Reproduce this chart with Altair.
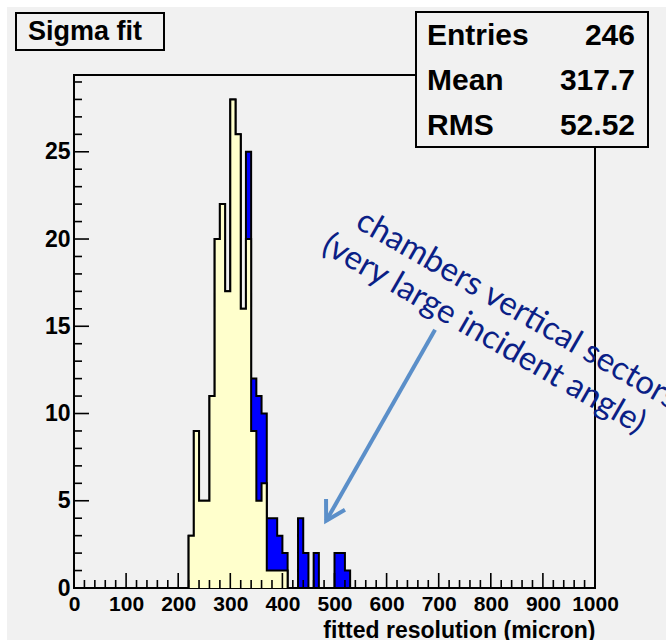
import math
import altair as alt
import pandas as pd

# ---------------- data ----------------
# 10-micron bins, lower edges in micron
bin_lo = list(range(200, 560, 10))
# all chambers (blue)
all_counts = [0, 0, 3, 9, 5, 5, 11, 20, 22, 17, 28, 26, 16, 25, 12, 11, 10, 4, 4, 3,
              2, 0, 0, 4, 2, 0, 2, 0, 0, 0, 2, 2, 1, 0, 0, 0]
# chambers outside the vertical sectors (yellow, drawn over the blue)
other_counts = [0, 0, 3, 9, 5, 5, 11, 20, 22, 17, 28, 26, 16, 20, 9, 5, 6, 1, 1, 1,
                1, 0, 0, 0, 0, 0, 0, 0, 0, 0, 0, 0, 0, 0, 0, 0]

x_labels = [0, 100, 200, 300, 400, 500, 600, 700, 800, 900, 1000]
y_labels = [0, 5, 10, 15, 20, 25]
x_major = [100, 200, 300, 400, 500, 600, 700, 800, 900]
x_minor = [v for v in range(20, 1000, 20) if v % 100]
y_major = [5, 10, 15, 20, 25]
y_minor = [v for v in range(1, 30) if v % 5]

stats_names = ["Entries", "Mean", "RMS"]
stats_values = ["246", "317.7", "52.52"]
hist_title = "Sigma fit"
x_title = "fitted resolution (micron)"
note_lines = ["chambers vertical sectors", "(very large incident angle)"]
arrow_tail = [693, 14.8]   # micron, entries
arrow_tip = [484, 3.85]

# ---------------- layout / style ----------------
W, H = 521, 513
X_MAX, Y_MAX = 1000, 29.4
BG = "#f1f1f1"
FONT = "Liberation Sans"
NAVY = "#0b1f86"
ARROW = "#5b8fc9"

xs = alt.Scale(domain=[0, X_MAX], nice=False, zero=False)
ys = alt.Scale(domain=[0, Y_MAX], nice=False, zero=False)

x_axis = alt.Axis(values=x_labels, format="d", ticks=False, domain=False, grid=False,
                  labelFont=FONT, labelFontSize=21, labelFontWeight="bold",
                  labelColor="black", labelPadding=5, labelFlush=False,
                  labelOverlap=False, title=x_title, titleFont=FONT,
                  titleFontSize=23, titleFontWeight="bold", titleColor="black",
                  titleAlign="right", titleAnchor="end", titleX=W, titleY=49,
                  titleBaseline="alphabetic")
y_axis = alt.Axis(values=y_labels, format="d", ticks=False, domain=False, grid=False,
                  labelFont=FONT, labelFontSize=23, labelFontWeight="bold",
                  labelColor="black", labelPadding=4, labelFlush=False,
                  labelOverlap=False, title=None)


def X(field="x"):
    return alt.X(f"{field}:Q", scale=xs, axis=x_axis, title=x_title)


def Y(field="y"):
    return alt.Y(f"{field}:Q", scale=ys, axis=y_axis, title=None)


def steps(counts):
    return pd.DataFrame({"x": bin_lo + [bin_lo[-1] + 10], "y": counts + [0]})


def one_row():
    return pd.DataFrame({"k": [0]})


def hist(counts, fill):
    df = steps(counts)
    area = alt.Chart(df).mark_area(interpolate="step-after", color=fill,
                                   opacity=1).encode(x=X(), y=Y())
    line = alt.Chart(df).mark_line(interpolate="step-after", color="black",
                                   strokeWidth=2).encode(x=X(), y=Y())
    return [area, line]


layers = []

# white page margin at top and left
for x0, x1, y0, y1 in [(-74, 592, -75, -68), (-74, -67, -75, 565)]:
    layers.append(alt.Chart(one_row()).mark_rect(color="white").encode(
        x=alt.value(x0), x2=alt.value(x1), y=alt.value(y0), y2=alt.value(y1)))

layers += hist(all_counts, "#0000ff")
layers += hist(other_counts, "#ffffcc")

# inward ticks
for vals, length in [(x_major, 15), (x_minor, 8)]:
    layers.append(alt.Chart(pd.DataFrame({"x": vals})).mark_rule(
        color="black", strokeWidth=1.6).encode(
        x=X(), y=alt.value(H), y2=alt.value(H - length)))
for vals, length in [(y_major, 15), (y_minor, 8)]:
    layers.append(alt.Chart(pd.DataFrame({"y": vals})).mark_rule(
        color="black", strokeWidth=1.6).encode(
        y=Y(), x=alt.value(0), x2=alt.value(length)))

# title box
layers.append(alt.Chart(one_row()).mark_rect(fill=BG, stroke="black", strokeWidth=2).encode(
    x=alt.value(-58), x2=alt.value(90), y=alt.value(-62), y2=alt.value(-25)))
layers.append(alt.Chart(one_row()).mark_text(
    text=hist_title, font=FONT, fontSize=27, fontWeight="bold", color="black",
    align="center", baseline="middle").encode(x=alt.value(11), y=alt.value(-43)))

# statistics box
layers.append(alt.Chart(one_row()).mark_rect(fill=BG, stroke="black", strokeWidth=2).encode(
    x=alt.value(342), x2=alt.value(574), y=alt.value(-63), y2=alt.value(72)))
for i, (name, val) in enumerate(zip(stats_names, stats_values)):
    yy = -39 + 45 * i
    layers.append(alt.Chart(one_row()).mark_text(
        text=name, font=FONT, fontSize=30, fontWeight="bold", color="black",
        align="left", baseline="middle").encode(x=alt.value(353), y=alt.value(yy)))
    layers.append(alt.Chart(one_row()).mark_text(
        text=val, font=FONT, fontSize=30, fontWeight="bold", color="black",
        align="right", baseline="middle").encode(x=alt.value(561), y=alt.value(yy)))

# annotation arrow
arrow_df = pd.DataFrame({"x": [arrow_tail[0]], "y": [arrow_tail[1]],
                         "x2": [arrow_tip[0]], "y2": [arrow_tip[1]]})
layers.append(alt.Chart(arrow_df).mark_rule(color=ARROW, strokeWidth=4).encode(
    x=X(), y=Y(), x2="x2:Q", y2="y2:Q"))
dx = (arrow_tip[0] - arrow_tail[0]) * W / X_MAX
dy = -(arrow_tip[1] - arrow_tail[1]) * H / Y_MAX
head_angle = math.degrees(math.atan2(-dx, dy)) % 360
head = "M -0.5 -0.866 L 0 0 L 0.5 -0.866"
layers.append(alt.Chart(pd.DataFrame({"x": [arrow_tip[0]], "y": [arrow_tip[1]]})).mark_point(
    shape=head, filled=False, stroke=ARROW, strokeWidth=4, size=1900, opacity=1,
    angle=head_angle).encode(x=X(), y=Y()))

# rotated annotation text
for txt, (px, py) in zip(note_lines, [(280, 152), (246, 176)]):
    layers.append(alt.Chart(one_row()).mark_text(
        text=txt, font="Lato", fontSize=33, color=NAVY, angle=30,
        align="left", baseline="alphabetic").encode(x=alt.value(px), y=alt.value(py)))

chart = alt.layer(*layers).properties(
    width=W, height=H,
    padding={"left": 74, "top": 75, "right": 71, "bottom": 52},
    autosize=alt.AutoSizeParams(type="none"),
    background=BG,
).configure_view(fill=BG, stroke="black", strokeWidth=2)

chart.save("out.html", embed_options={"renderer": "svg", "actions": False})
